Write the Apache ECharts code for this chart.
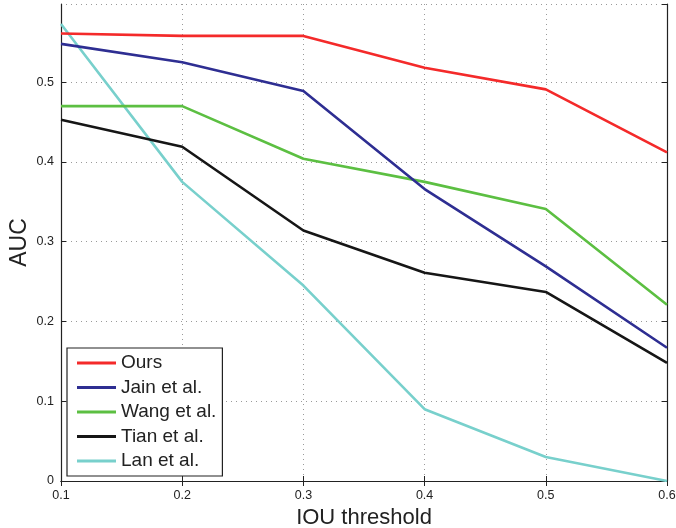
<!DOCTYPE html>
<html>
<head>
<meta charset="utf-8">
<script src="https://cdn.jsdelivr.net/npm/echarts@6/dist/echarts.min.js"></script>
<style>html,body{margin:0;padding:0;background:#fff}#c{width:676px;height:528px}</style>
</head>
<body>
<div id="c"></div>
<script>
const xValues = [0.1, 0.2, 0.3, 0.4, 0.5, 0.6];
const seriesNames = ['Ours', 'Jain et al.', 'Wang et al.', 'Tian et al.', 'Lan et al.'];
const ours = [0.561, 0.558, 0.558, 0.518, 0.491, 0.412];
const jain = [0.548, 0.525, 0.489, 0.366, 0.269, 0.167];
const wang = [0.470, 0.470, 0.404, 0.375, 0.341, 0.221];
const tian = [0.453, 0.419, 0.314, 0.261, 0.237, 0.148];
const lan  = [0.573, 0.375, 0.245, 0.090, 0.030, 0.000];
const colors = ['#f42a2a', '#2e2e92', '#5cbf42', '#161616', '#78d0cc'];
const allData = [ours, jain, wang, tian, lan];

const font = 'Liberation Sans, Arial, Helvetica, sans-serif';
const chart = echarts.init(document.getElementById('c'));
const grid = { left: 61, right: 9, top: 4, bottom: 47, containLabel: false, outerBoundsMode: 'none' };
const gridLine = { show: true, lineStyle: { color: '#9a9a9a', type: [1, 4], width: 1 } };
const axisLine = { show: true, lineStyle: { color: '#222', width: 1.2 } };
const tick = { show: true, inside: true, length: 5, lineStyle: { color: '#222' } };

chart.setOption({
  animation: false,
  backgroundColor: '#fff',
  grid: grid,
  xAxis: [{
    type: 'value', min: 0.1, max: 0.6, interval: 0.1,
    name: 'IOU threshold', nameLocation: 'middle', nameGap: 20,
    nameTextStyle: { fontSize: 22, color: '#222', fontFamily: font },
    axisLine: axisLine, axisTick: tick, splitLine: gridLine,
    axisLabel: { fontSize: 12.5, color: '#222', fontFamily: font, margin: 8,
      formatter: v => v.toFixed(1) }
  }, {
    type: 'value', position: 'top', min: 0.1, max: 0.6, interval: 0.1,
    axisLine: axisLine, axisTick: tick, splitLine: { show: false },
    axisLabel: { show: false }
  }],
  yAxis: [{
    type: 'value', min: 0, max: 0.598, interval: 0.1,
    name: 'AUC', nameLocation: 'middle', nameGap: 30, nameRotate: 90, nameMoveOverlap: false,
    nameTextStyle: { fontSize: 23, color: '#222', fontFamily: font },
    axisLine: axisLine, axisTick: tick, splitLine: gridLine,
    axisLabel: { fontSize: 12.5, color: '#222', fontFamily: font, margin: 7, showMaxLabel: false,
      formatter: v => (v === 0 ? '0' : v.toFixed(1)) }
  }, {
    type: 'value', position: 'right', min: 0, max: 0.598, interval: 0.1,
    axisLine: axisLine, axisTick: tick, splitLine: { show: false },
    axisLabel: { show: false }
  }],
  legend: {
    orient: 'vertical', left: 67, top: 348,
    data: seriesNames.map(n => ({ name: n, icon: 'rect' })),
    backgroundColor: '#fff', borderColor: '#222', borderWidth: 1.2, borderRadius: 0,
    padding: [5, 6, 5, 10],
    itemWidth: 39, itemHeight: 3, itemGap: 4.5,
    textStyle: { fontSize: 19, color: '#222', fontFamily: font, lineHeight: 20 }
  },
  series: seriesNames.map((n, i) => ({
    name: n, type: 'line', symbol: 'none',
    data: xValues.map((x, j) => [x, allData[i][j]]),
    lineStyle: { color: colors[i], width: 2.6 },
    itemStyle: { color: colors[i] },
    z: 10 - i
  }))
});
</script>
</body>
</html>
